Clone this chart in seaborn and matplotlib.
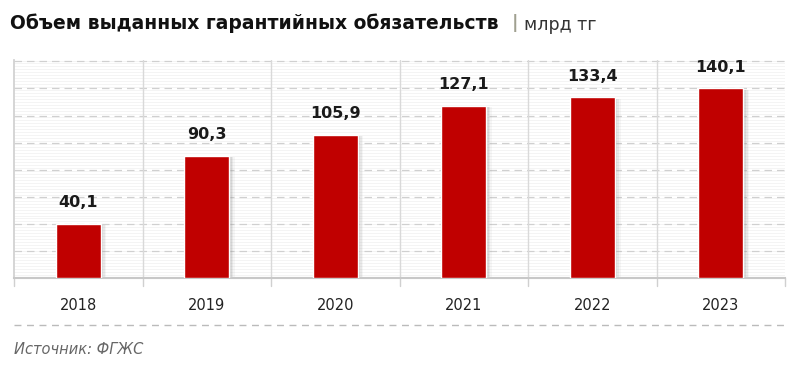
import matplotlib
matplotlib.use("Agg")
import matplotlib.pyplot as plt
import seaborn as sns
import numpy as np
import pandas as pd

years = ["2018", "2019", "2020", "2021", "2022", "2023"]
values = [40.1, 90.3, 105.9, 127.1, 133.4, 140.1]
labels = ["40,1", "90,3", "105,9", "127,1", "133,4", "140,1"]
title_main = "Объем выданных гарантийных обязательств"
title_unit = "млрд тг"
source = "Источник: ФГЖС"

sns.set_theme(style="white")
plt.rcParams['font.family'] = ['DejaVu Sans']

fig = plt.figure(figsize=(8, 3.82), dpi=100)
ax = fig.add_axes([0.0175, 0.272, 0.964, 0.571])

df = pd.DataFrame({"year": years, "value": values})
# background faint stripes
for yv in np.arange(0, 161, 2.2):
    ax.axhline(yv, color="#f2f2f2", lw=0.6, zorder=0)
for yv in range(20, 161, 20):
    ax.axhline(yv, color="#d0d0d0", lw=0.9, ls=(0, (6, 4)), zorder=1)
for xv in np.arange(0.5, 5.5, 1):
    ax.axvline(xv, color="#d9d9d9", lw=1, zorder=1)

# soft shadow
for k, a in enumerate([0.18, 0.12, 0.07]):
    ax.bar(np.arange(6) + 0.02 + 0.012 * k, [v - 1.0 for v in values], width=0.35,
           bottom=0, color="#888888", alpha=a, zorder=2, linewidth=0)
sns.barplot(data=df, x="year", y="value", color="#C00000", saturation=1,
            width=0.35, ax=ax, zorder=3)

for i, (v, lab) in enumerate(zip(values, labels)):
    ax.text(i, v + 10, lab, ha="center", va="bottom", fontsize=11.5,
            fontweight="bold", color="#1a1a1a")

ax.set_xlim(-0.5, 5.5)
ax.set_ylim(0, 161)
ax.set_yticks([])
ax.set_xlabel("")
ax.set_ylabel("")
ax.tick_params(axis="x", length=0, pad=14, labelsize=10.5, labelcolor="#222222")
for s in ["top", "right"]:
    ax.spines[s].set_visible(False)
ax.spines["left"].set_color("#d0d0d0")
ax.spines["bottom"].set_color("#c8c8c8")
ax.spines["bottom"].set_linewidth(1.5)
for xv in np.arange(-0.5, 6.5, 1):
    ax.plot([xv, xv], [0, -6], color="#d0d0d0", lw=1, clip_on=False, zorder=1)

t = fig.text(0.0125, 0.94, title_main, fontsize=13.5, fontweight="bold",
             color="#111111", va="center", ha="left")
fig.canvas.draw()
bb = t.get_window_extent()
x1 = bb.x1 / fig.bbox.width
fig.text(x1 + 0.02, 0.94, "|", fontsize=13, color="#a0a090",
         va="center", ha="center", fontweight="bold")
fig.text(x1 + 0.032, 0.935, title_unit, fontsize=12.5, color="#333333",
         va="center", ha="left")

fig.add_artist(plt.Line2D([0.0175, 0.981], [0.15, 0.15], color="#bbbbbb",
                          lw=1, ls=(0, (5, 4))))
fig.text(0.0175, 0.085, source, fontsize=10.5, style="italic", color="#666666",
         va="center", ha="left")

fig.savefig("out.png", dpi=100)
